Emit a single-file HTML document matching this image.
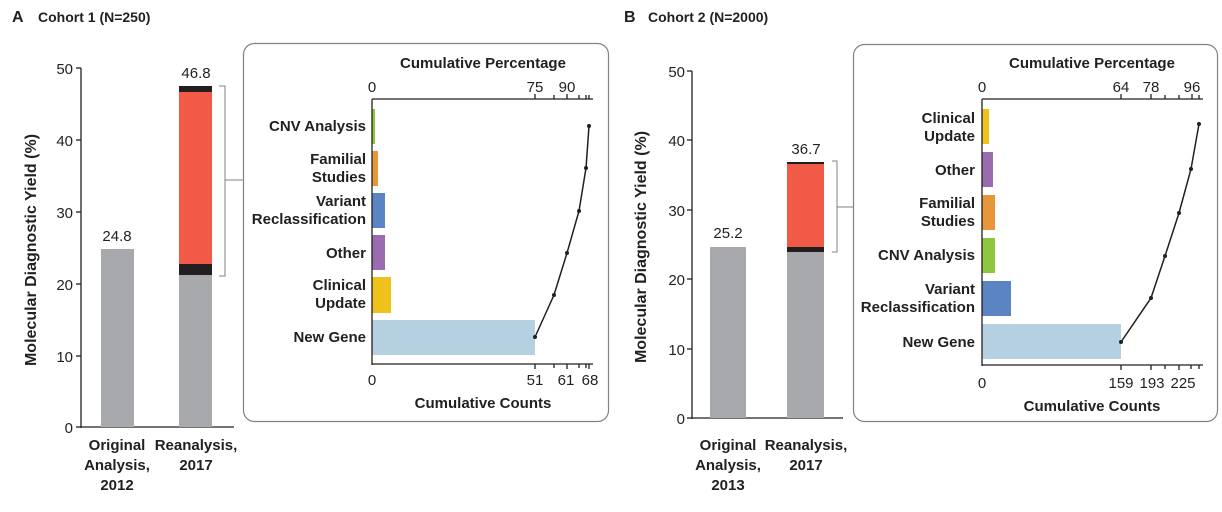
<!DOCTYPE html>
<html><head><meta charset="utf-8"><style>
html,body{margin:0;padding:0;background:#fff;}
svg{display:block;}
text{font-family:"Liberation Sans",sans-serif;fill:#231f20;}
.b{font-weight:bold;}
.n{font-size:15px;}
.l{font-size:15px;font-weight:bold;}
.y{font-size:16px;font-weight:bold;}
</style></head><body>
<svg width="1222" height="512" viewBox="0 0 1222 512" xmlns="http://www.w3.org/2000/svg">
<!-- Panel A -->
<text x="12" y="22" class="b" style="font-size:16px">A</text>
<text x="38" y="22" class="b" style="font-size:14px">Cohort 1 (N=250)</text>
<text transform="translate(36,250) rotate(-90)" text-anchor="middle" class="y">Molecular Diagnostic Yield (%)</text>
<g stroke="#231f20" stroke-width="1.3">
<line x1="81" y1="68" x2="81" y2="428"/><line x1="81" y1="427" x2="234" y2="427"/>
<line x1="76" y1="68" x2="81" y2="68"/><line x1="76" y1="140" x2="81" y2="140"/><line x1="76" y1="212" x2="81" y2="212"/><line x1="76" y1="284" x2="81" y2="284"/><line x1="76" y1="356" x2="81" y2="356"/><line x1="76" y1="427" x2="81" y2="427"/>
</g>
<g class="n" text-anchor="end"><text x="73" y="74">50</text><text x="73" y="146">40</text><text x="73" y="218">30</text><text x="73" y="290">20</text><text x="73" y="362">10</text><text x="73" y="433">0</text></g>
<rect x="101" y="249" width="33" height="178" fill="#a7a9ac"/>
<rect x="179" y="275" width="33" height="152" fill="#a7a9ac"/>
<rect x="179" y="264" width="33" height="11" fill="#231f20"/>
<rect x="179" y="92" width="33" height="172" fill="#f05a46"/>
<rect x="179" y="86" width="33" height="6" fill="#231f20"/>
<text x="117" y="241" text-anchor="middle" class="n">24.8</text>
<text x="196" y="78" text-anchor="middle" class="n">46.8</text>
<path d="M219 86 H225 V276 H219 M225 180 H243" fill="none" stroke="#808285" stroke-width="1"/>
<g class="l" text-anchor="middle"><text x="117" y="450">Original</text><text x="117" y="470">Analysis,</text><text x="117" y="490">2012</text><text x="196" y="450">Reanalysis,</text><text x="196" y="470">2017</text></g>
<rect x="243.5" y="43.5" width="365" height="378" rx="11" fill="none" stroke="#808285" stroke-width="1.2"/>
<text x="483" y="68" text-anchor="middle" class="l">Cumulative Percentage</text>
<text x="483" y="408" text-anchor="middle" class="l">Cumulative Counts</text>
<rect x="372" y="109" width="3" height="35" fill="#8dc63f"/>
<rect x="372" y="151" width="6" height="35" fill="#e8963a"/>
<rect x="372" y="193" width="13" height="35" fill="#5b84c4"/>
<rect x="372" y="235" width="13" height="35" fill="#9b6bb0"/>
<rect x="372" y="277" width="19" height="36" fill="#efc21b"/>
<rect x="372" y="320" width="163" height="35" fill="#b4d0e1"/>
<g stroke="#231f20" stroke-width="1.3">
<line x1="372" y1="99" x2="372" y2="365"/><line x1="372" y1="99" x2="593" y2="99"/><line x1="372" y1="364" x2="593" y2="364"/>
<line x1="535" y1="94" x2="535" y2="99"/><line x1="554" y1="95" x2="554" y2="99"/><line x1="567" y1="94" x2="567" y2="99"/><line x1="579" y1="95" x2="579" y2="99"/><line x1="586" y1="95" x2="586" y2="99"/><line x1="589" y1="95" x2="589" y2="99"/>
<line x1="535" y1="364" x2="535" y2="369"/><line x1="554" y1="364" x2="554" y2="368"/><line x1="567" y1="364" x2="567" y2="369"/><line x1="579" y1="364" x2="579" y2="368"/><line x1="586" y1="364" x2="586" y2="368"/><line x1="589" y1="364" x2="589" y2="369"/>
</g>
<g class="n" text-anchor="middle"><text x="372" y="92">0</text><text x="535" y="92">75</text><text x="567" y="92">90</text><text x="372" y="385">0</text><text x="535" y="385">51</text><text x="566" y="385">61</text><text x="590" y="385">68</text></g>
<polyline points="535,337 554,295 567,253 579,211 586,168 589,126" fill="none" stroke="#231f20" stroke-width="1.5"/>
<g fill="#231f20"><circle cx="535" cy="337" r="2"/><circle cx="554" cy="295" r="2"/><circle cx="567" cy="253" r="2"/><circle cx="579" cy="211" r="2"/><circle cx="586" cy="168" r="2"/><circle cx="589" cy="126" r="2"/></g>
<g class="l" text-anchor="end">
<text x="366" y="131">CNV Analysis</text>
<text x="366" y="164">Familial</text><text x="366" y="182">Studies</text>
<text x="366" y="206">Variant</text><text x="366" y="224">Reclassification</text>
<text x="366" y="258">Other</text>
<text x="366" y="290">Clinical</text><text x="366" y="308">Update</text>
<text x="366" y="342">New Gene</text>
</g>

<!-- Panel B -->
<text x="624" y="22" class="b" style="font-size:16px">B</text>
<text x="648" y="22" class="b" style="font-size:14px">Cohort 2 (N=2000)</text>
<text transform="translate(646,247) rotate(-90)" text-anchor="middle" class="y">Molecular Diagnostic Yield (%)</text>
<g stroke="#231f20" stroke-width="1.3">
<line x1="692" y1="71" x2="692" y2="419"/><line x1="692" y1="418" x2="843" y2="418"/>
<line x1="687" y1="71" x2="692" y2="71"/><line x1="687" y1="140" x2="692" y2="140"/><line x1="687" y1="210" x2="692" y2="210"/><line x1="687" y1="279" x2="692" y2="279"/><line x1="687" y1="349" x2="692" y2="349"/><line x1="687" y1="418" x2="692" y2="418"/>
</g>
<g class="n" text-anchor="end"><text x="685" y="77">50</text><text x="685" y="146">40</text><text x="685" y="216">30</text><text x="685" y="285">20</text><text x="685" y="355">10</text><text x="685" y="424">0</text></g>
<rect x="710" y="247" width="36" height="171" fill="#a7a9ac"/>
<rect x="787" y="252" width="37" height="166" fill="#a7a9ac"/>
<rect x="787" y="247" width="37" height="5" fill="#231f20"/>
<rect x="787" y="164" width="37" height="83" fill="#f05a46"/>
<rect x="787" y="162" width="37" height="2" fill="#231f20"/>
<text x="728" y="238" text-anchor="middle" class="n">25.2</text>
<text x="806" y="154" text-anchor="middle" class="n">36.7</text>
<path d="M832 161 H837 V252 H832 M837 207 H853" fill="none" stroke="#808285" stroke-width="1"/>
<g class="l" text-anchor="middle"><text x="728" y="450">Original</text><text x="728" y="470">Analysis,</text><text x="728" y="490">2013</text><text x="806" y="450">Reanalysis,</text><text x="806" y="470">2017</text></g>
<rect x="853.5" y="44.5" width="364" height="377" rx="11" fill="none" stroke="#808285" stroke-width="1.2"/>
<text x="1092" y="68" text-anchor="middle" class="l">Cumulative Percentage</text>
<text x="1092" y="411" text-anchor="middle" class="l">Cumulative Counts</text>
<rect x="982" y="109" width="7" height="35" fill="#efc21b"/>
<rect x="982" y="152" width="11" height="35" fill="#9b6bb0"/>
<rect x="982" y="195" width="13" height="35" fill="#e8963a"/>
<rect x="982" y="238" width="13" height="35" fill="#8dc63f"/>
<rect x="982" y="281" width="29" height="35" fill="#5b84c4"/>
<rect x="982" y="324" width="139" height="35" fill="#b4d0e1"/>
<g stroke="#231f20" stroke-width="1.3">
<line x1="982" y1="99" x2="982" y2="366"/><line x1="982" y1="99" x2="1203" y2="99"/><line x1="982" y1="365" x2="1203" y2="365"/>
<line x1="1121" y1="94" x2="1121" y2="99"/><line x1="1151" y1="94" x2="1151" y2="99"/><line x1="1165" y1="95" x2="1165" y2="99"/><line x1="1179" y1="95" x2="1179" y2="99"/><line x1="1192" y1="94" x2="1192" y2="99"/><line x1="1199" y1="95" x2="1199" y2="99"/>
<line x1="1121" y1="365" x2="1121" y2="370"/><line x1="1151" y1="365" x2="1151" y2="370"/><line x1="1165" y1="365" x2="1165" y2="369"/><line x1="1179" y1="365" x2="1179" y2="370"/><line x1="1191" y1="365" x2="1191" y2="369"/><line x1="1199" y1="365" x2="1199" y2="369"/>
</g>
<g class="n" text-anchor="middle"><text x="982" y="92">0</text><text x="1121" y="92">64</text><text x="1151" y="92">78</text><text x="1192" y="92">96</text><text x="982" y="388">0</text><text x="1121" y="388">159</text><text x="1152" y="388">193</text><text x="1183" y="388">225</text></g>
<polyline points="1121,342 1151,298 1165,256 1179,213 1191,169 1199,124" fill="none" stroke="#231f20" stroke-width="1.5"/>
<g fill="#231f20"><circle cx="1121" cy="342" r="2"/><circle cx="1151" cy="298" r="2"/><circle cx="1165" cy="256" r="2"/><circle cx="1179" cy="213" r="2"/><circle cx="1191" cy="169" r="2"/><circle cx="1199" cy="124" r="2"/></g>
<g class="l" text-anchor="end">
<text x="975" y="123">Clinical</text><text x="975" y="141">Update</text>
<text x="975" y="175">Other</text>
<text x="975" y="208">Familial</text><text x="975" y="226">Studies</text>
<text x="975" y="260">CNV Analysis</text>
<text x="975" y="294">Variant</text><text x="975" y="312">Reclassification</text>
<text x="975" y="347">New Gene</text>
</g>
</svg>
</body></html>
